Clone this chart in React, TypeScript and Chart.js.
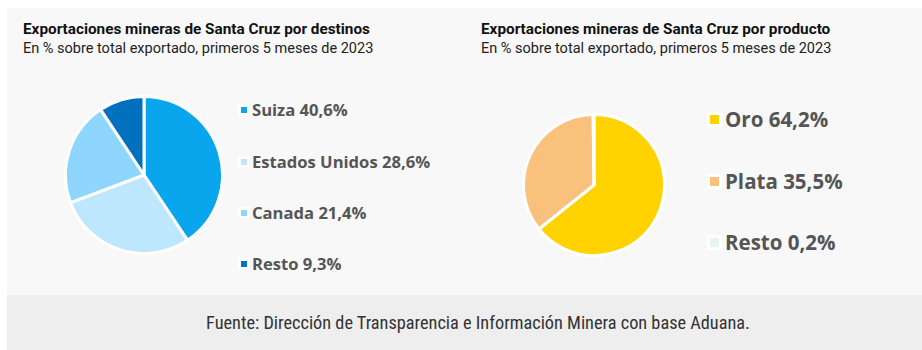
import React, { useEffect, useRef } from "react";
import { Chart, registerables } from "chart.js";

Chart.register(...registerables);

const destinoLabels = ["Suiza", "Estados Unidos", "Canada", "Resto"];
const destinoValues = [40.6, 28.6, 21.4, 9.3];
const destinoColors = ["#0aa6ed", "#bde7fc", "#8ed6fe", "#0070bf"];

const productoLabels = ["Oro", "Plata", "Resto"];
const productoValues = [64.2, 35.5, 0.2];
const productoColors = ["#ffd200", "#f9c17b", "#e8f4f4"];

const fmt = (v: number) => v.toFixed(1).replace(".", ",") + "%";

function Pie({ values, colors, labels, style }: { values: number[]; colors: string[]; labels: string[]; style: React.CSSProperties }) {
  const ref = useRef<HTMLCanvasElement>(null);
  useEffect(() => {
    if (!ref.current) return;
    const chart = new Chart(ref.current, {
      type: "pie",
      data: {
        labels,
        datasets: [
          {
            data: values,
            backgroundColor: colors,
            borderColor: "#ffffff",
            borderWidth: 3,
            hoverOffset: 0,
          },
        ],
      },
      options: {
        animation: false,
        responsive: false,
        events: [],
        layout: { padding: 0 },
        plugins: { legend: { display: false }, tooltip: { enabled: false } },
      },
    });
    return () => chart.destroy();
  }, []);
  const w = style.width as number;
  const h = style.height as number;
  return <canvas ref={ref} width={w} height={h} style={{ position: "absolute", ...style }} />;
}

function Legend({ labels, values, colors, x, ys, fontSize, box, inner }: { labels: string[]; values: number[]; colors: string[]; x: number; ys: number[]; fontSize: number; box: number; inner: number }) {
  return (
    <>
      {labels.map((l, i) => (
        <div key={l} style={{ position: "absolute", left: x, top: ys[i] - fontSize, height: fontSize * 2, display: "flex", alignItems: "center", whiteSpace: "nowrap" }}>
          <div style={{ width: box, height: box, background: "#ffffff", display: "flex", alignItems: "center", justifyContent: "center", marginRight: 3 }}>
            <div style={{ width: inner, height: inner, background: colors[i] }} />
          </div>
          <span style={{ fontFamily: "'Open Sans', Roboto, sans-serif", fontWeight: 700, fontSize, color: "#555555" }}>
            {l} {fmt(values[i])}
          </span>
        </div>
      ))}
    </>
  );
}

export default function App() {
  const titleStyle: React.CSSProperties = { position: "absolute", fontFamily: "Roboto, 'Noto Sans', sans-serif", fontWeight: 700, fontSize: 15.3, color: "#111111", whiteSpace: "nowrap" };
  const subStyle: React.CSSProperties = { position: "absolute", fontFamily: "Roboto, 'Noto Sans', sans-serif", fontWeight: 400, fontSize: 14.5, color: "#222222", whiteSpace: "nowrap" };
  return (
    <div style={{ position: "absolute", left: 0, top: 0, width: 922, height: 350, background: "#ffffff", overflow: "hidden" }}>
      <div style={{ position: "absolute", left: 7, top: 8, width: 915, height: 287, background: "#f8f8f8" }} />
      <div style={{ position: "absolute", left: 7, top: 295, width: 915, height: 55, background: "#eeeeee" }} />

      <div style={{ ...titleStyle, left: 23, top: 20 }}>Exportaciones mineras de Santa Cruz por destinos</div>
      <div style={{ ...subStyle, left: 23, top: 40 }}>En % sobre total exportado, primeros 5 meses de 2023</div>
      <div style={{ ...titleStyle, left: 481, top: 20 }}>Exportaciones mineras de Santa Cruz por producto</div>
      <div style={{ ...subStyle, left: 481, top: 40 }}>En % sobre total exportado, primeros 5 meses de 2023</div>

      <Pie values={destinoValues} colors={destinoColors} labels={destinoLabels} style={{ left: 64, top: 95, width: 160, height: 160 }} />
      <Pie values={productoValues} colors={productoColors} labels={productoLabels} style={{ left: 522, top: 113, width: 144, height: 144 }} />

      <Legend labels={destinoLabels} values={destinoValues} colors={destinoColors} x={238} ys={[110, 162, 213, 264]} fontSize={16.6} box={11} inner={6} />
      <Legend labels={productoLabels} values={productoValues} colors={productoColors} x={707} ys={[119, 181, 242]} fontSize={20.5} box={15} inner={9} />

      <div style={{ position: "absolute", left: 17, top: 295, width: 922, height: 55, display: "flex", alignItems: "center", justifyContent: "center", fontFamily: "'Roboto Condensed', 'Liberation Sans Narrow', 'DejaVu Sans Condensed', Roboto, sans-serif", fontSize: 18.3, color: "#333333" }}>
        Fuente: Dirección de Transparencia e Información Minera con base Aduana.
      </div>
    </div>
  );
}
